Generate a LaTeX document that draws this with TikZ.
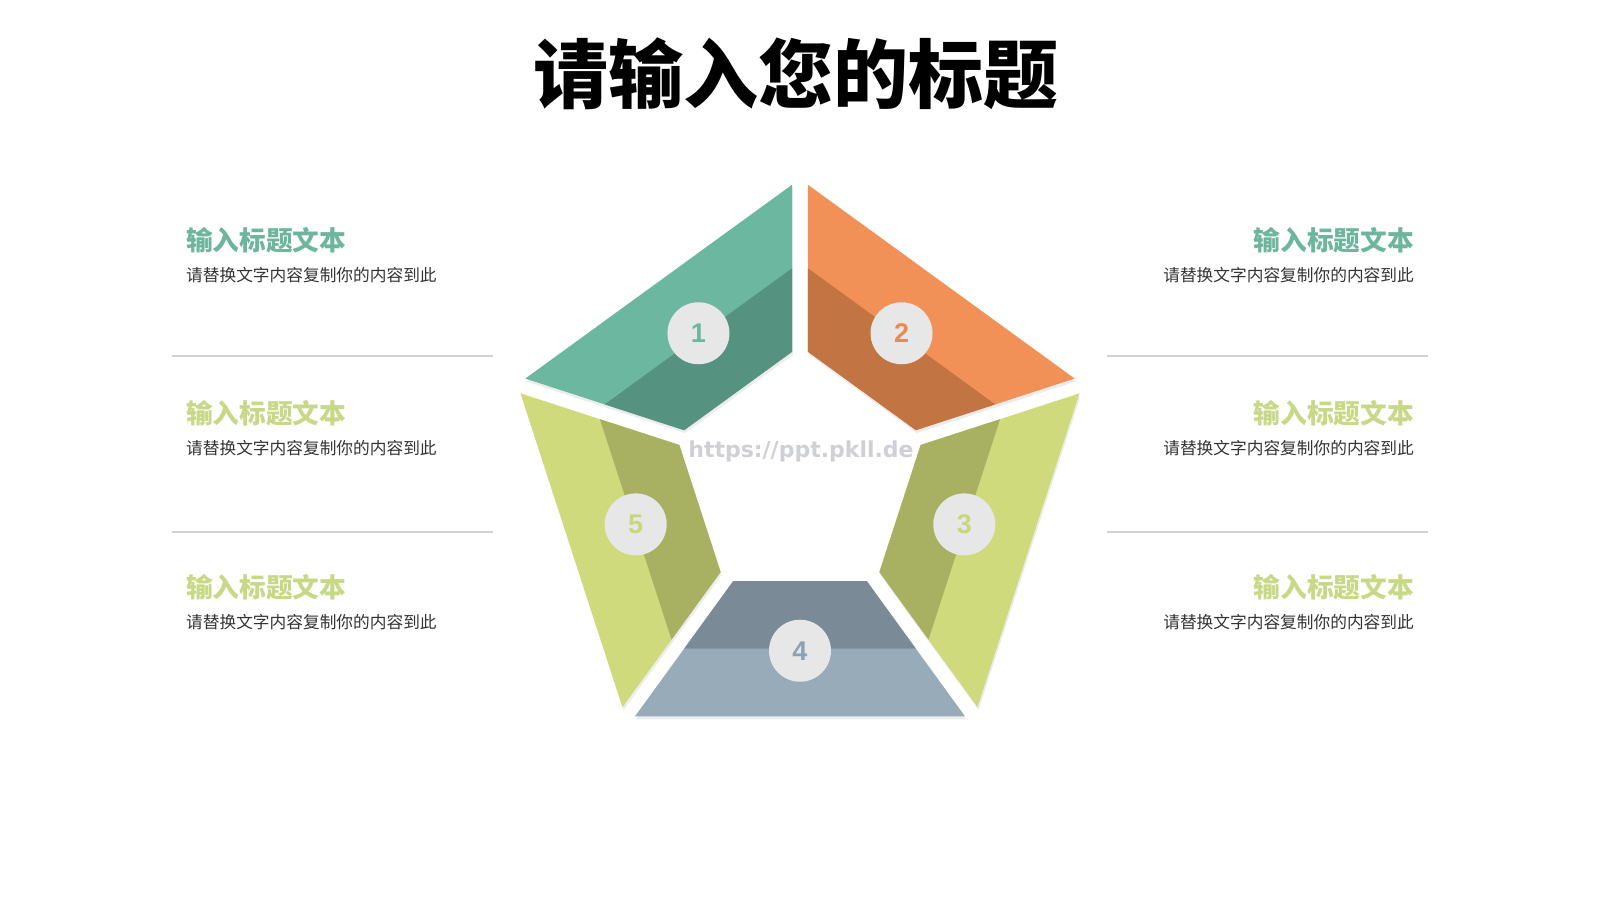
\documentclass[tikz,border=0pt]{standalone}
\usepackage{fontspec}
\usepackage{tikz}
\usetikzlibrary{calc,positioning,shadows}

\newfontfamily\cjk{Noto Sans CJK SC}
\newfontfamily\numfont{Liberation Sans}
\newfontfamily\markfont{DejaVu Sans}

\definecolor{tealL}{HTML}{6CB7A0}
\definecolor{tealD}{HTML}{55927F}
\definecolor{orangeL}{HTML}{F29157}
\definecolor{orangeD}{HTML}{C27442}
\definecolor{orangeN}{HTML}{EA8A50}
\definecolor{greenL}{HTML}{CFDA7D}
\definecolor{greenD}{HTML}{A8B062}
\definecolor{greenN}{HTML}{C9D77A}
\definecolor{blueL}{HTML}{97ABB9}
\definecolor{blueD}{HTML}{7A8B97}
\definecolor{blueN}{HTML}{8BA2B6}
\definecolor{dotgray}{HTML}{E7E7E7}
\definecolor{headTeal}{HTML}{6DB69D}
\definecolor{headGreen}{HTML}{C7D886}
\definecolor{bodygray}{HTML}{333333}
\definecolor{rulegray}{HTML}{D2D2D2}
\definecolor{markgray}{HTML}{CFCFD6}

\begin{document}
\begin{tikzpicture}[x=1pt,y=1pt,
    heading/.style={font=\cjk\bfseries\fontsize{26.7}{30}\selectfont, inner sep=0pt},
    bodytext/.style={font=\cjk\fontsize{16.7}{20}\selectfont, text=bodygray, inner sep=0pt},
    numdot/.style={circle, fill=dotgray, minimum size=62pt, inner sep=0pt,
                   font=\numfont\bfseries\fontsize{27}{30}\selectfont},
    rule/.style={draw=rulegray, line width=1.2pt}]
    \useasboundingbox (-800,-424) rectangle (800,476);

    \node[font=\cjk\bfseries\fontsize{75}{80}\selectfont] (title) at (-4,402) {请输入您的标题};

    % pentagon pieces
    \foreach \a/\lite/\dark/\num/\ink/\dy in {90/tealL/tealD/1/tealL/3, 18/orangeL/orangeD/2/orangeN/3,
        -54/greenL/greenD/3/greenN/5, -126/blueL/blueD/4/blueN/-2, 162/greenL/greenD/5/greenN/5}{
      \pgfmathsetmacro\b{\a+72}
      \coordinate (o1) at (\a:297);
      \coordinate (o2) at (\b:297);
      \coordinate (m1) at (\a:213.5);
      \coordinate (m2) at (\b:213.5);
      \coordinate (i1) at (\a:130);
      \coordinate (i2) at (\b:130);
      \fill[\lite, drop shadow={opacity=.15, shadow xshift=1pt, shadow yshift=-3pt}]
        ($(o1)!9.6pt!(o2)$) -- ($(o2)!9.6pt!(o1)$) -- ($(i2)!9.6pt!(i1)$) -- ($(i1)!9.6pt!(i2)$) -- cycle;
      \fill[\dark]
        ($(m1)!9.6pt!(m2)$) -- ($(m2)!9.6pt!(m1)$) -- ($(i2)!9.6pt!(i1)$) -- ($(i1)!9.6pt!(i2)$) -- cycle;
      \node[numdot, text=\ink] (dot\num) at ($(m1)!.5!(m2)+(0,\dy)$) {\num};
    }

    \node[font=\markfont\bfseries\fontsize{22}{26}\selectfont, text=markgray] (mark) at (1,25) {https://ppt.pkll.de};

    % text rows
    \foreach \y/\col [count=\k] in {236/headTeal, 63/headGreen, -111/headGreen}{
      \node[heading, text=\col, anchor=west] (hl\k) at (-614,\y) {输入标题文本};
      \node[bodytext, anchor=west] (bl\k) at ($(hl\k.west)+(0,-35)$) {请替换文字内容复制你的内容到此};
      \node[heading, text=\col, anchor=east] (hr\k) at (614,\y) {输入标题文本};
      \node[bodytext, anchor=east] (br\k) at ($(hr\k.east)+(0,-35)$) {请替换文字内容复制你的内容到此};
    }
    % separators
    \foreach \y in {120,-56}{
      \draw[rule] (-628,\y) -- (-307,\y);
      \draw[rule] (307,\y) -- (628,\y);
    }
\end{tikzpicture}
\end{document}
